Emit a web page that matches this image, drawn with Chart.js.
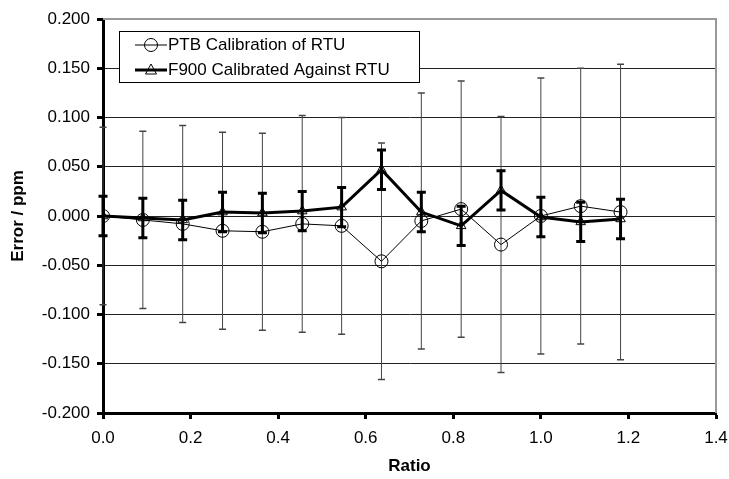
<!DOCTYPE html>
<html>
<head>
<meta charset="utf-8">
<script src="https://cdn.jsdelivr.net/npm/chart.js@4.4.0/dist/chart.umd.min.js"></script>
<style>
  body { margin: 0; background: #fff; }
  #wrap { width: 729px; height: 479px; }
</style>
</head>
<body>
<div id="wrap"><canvas id="graph" width="729" height="479"></canvas></div>
<script>
// ratio values (x)
var ratios = [0, 0.091, 0.182, 0.273, 0.364, 0.455, 0.545, 0.636, 0.727, 0.818, 0.909, 1.0, 1.091, 1.182]

// PTB calibration of RTU : error and uncertainty (ppm)
var ptbError = [0, -0.004, -0.008, -0.015, -0.016, -0.008, -0.010, -0.046, -0.005, 0.007, -0.029, 0.000, 0.010, 0.004]
var ptbUnc = [0.09, 0.09, 0.10, 0.10, 0.10, 0.11, 0.11, 0.12, 0.13, 0.13, 0.13, 0.14, 0.14, 0.15]

// F900 calibrated against RTU
var f900Error = [0, -0.002, -0.004, 0.004, 0.003, 0.005, 0.009, 0.047, 0.004, -0.010, 0.026, -0.001, -0.006, -0.003]
var f900Unc = [0.02, 0.02, 0.02, 0.02, 0.02, 0.02, 0.02, 0.02, 0.02, 0.02, 0.02, 0.02, 0.02, 0.02]

var seriesLabels = ['PTB Calibration of RTU', 'F900 Calibrated Against RTU']

var FONT = "'Liberation Sans', Arial, sans-serif"

function points(xs, ys) {
    return xs.map(function (x, i) { return { x: x, y: ys[i] } })
}

var uncertainties = [ptbUnc, f900Unc]

/*------------------------------*/
/*     error bars + legend      */
/*------------------------------*/
var errorBars = {
    id: 'errorBars',
    beforeDatasetsDraw: function (chart) {
        var ctx = chart.ctx
        var xs = chart.scales.x, ys = chart.scales.y
        var styles = [
            { width: 1, color: '#444', cap: 3.5, capWidth: 1.5 },
            { width: 3, color: '#000', cap: 4.5, capWidth: 3 }
        ]
        ctx.save()
        chart.data.datasets.forEach(function (ds, d) {
            var st = styles[d]
            ds.data.forEach(function (p, i) {
                var u = uncertainties[d][i]
                var px = xs.getPixelForValue(p.x)
                var top = ys.getPixelForValue(p.y + u)
                var bot = ys.getPixelForValue(p.y - u)
                ctx.strokeStyle = st.color
                ctx.lineWidth = st.width
                ctx.beginPath()
                ctx.moveTo(px, top)
                ctx.lineTo(px, bot)
                ctx.stroke()
                ctx.lineWidth = st.capWidth
                ctx.beginPath()
                ctx.moveTo(px - st.cap, top)
                ctx.lineTo(px + st.cap, top)
                ctx.moveTo(px - st.cap, bot)
                ctx.lineTo(px + st.cap, bot)
                ctx.stroke()
            })
        })
        ctx.restore()
    },
    afterDatasetsDraw: function (chart) {
        var ctx = chart.ctx
        var area = chart.chartArea
        ctx.save()
        // right and top border of the plot
        ctx.strokeStyle = '#999'
        ctx.lineWidth = 2
        ctx.beginPath()
        ctx.moveTo(area.left, area.top)
        ctx.lineTo(area.right, area.top)
        ctx.lineTo(area.right, area.bottom)
        ctx.stroke()

        // legend box
        var bx = area.left + 16, by = area.top + 12, bw = 300, bh = 51
        ctx.fillStyle = '#fff'
        ctx.fillRect(bx, by, bw, bh)
        ctx.strokeStyle = '#000'
        ctx.lineWidth = 1
        ctx.strokeRect(bx + 0.5, by + 0.5, bw, bh)

        ctx.font = '17px ' + FONT
        ctx.textBaseline = 'middle'
        ctx.fillStyle = '#000'
        var rows = [by + 14, by + 39]
        chart.data.datasets.forEach(function (ds, d) {
            var y = rows[d]
            var x0 = bx + 16, x1 = bx + 48, cx = (x0 + x1) / 2
            ctx.strokeStyle = '#000'
            ctx.lineWidth = ds.borderWidth
            ctx.beginPath()
            ctx.moveTo(x0, y)
            ctx.lineTo(x1, y)
            ctx.stroke()
            ctx.lineWidth = 1
            ctx.beginPath()
            if (d === 0) {
                ctx.arc(cx, y, 6.5, 0, Math.PI * 2)
            } else {
                ctx.moveTo(cx, y - 6)
                ctx.lineTo(cx + 5.5, y + 4)
                ctx.lineTo(cx - 5.5, y + 4)
                ctx.closePath()
            }
            ctx.stroke()
            ctx.fillStyle = '#000'
            ctx.fillText(ds.label, x1 + 1, y)
        })
        ctx.restore()
    }
}

var ctx_graph = document.getElementById('graph').getContext('2d')

var data_graph = {
    datasets: [{
        label: seriesLabels[0],
        data: points(ratios, ptbError),
        showLine: true,
        borderColor: '#000',
        borderWidth: 1,
        pointStyle: 'circle',
        pointRadius: 6.5,
        pointBorderWidth: 1,
        pointBorderColor: '#000',
        pointBackgroundColor: 'rgba(0,0,0,0)'
    }, {
        label: seriesLabels[1],
        data: points(ratios, f900Error),
        showLine: true,
        borderColor: '#000',
        borderWidth: 3,
        pointStyle: 'triangle',
        pointRadius: 5.5,
        pointBorderWidth: 1,
        pointBorderColor: '#000',
        pointBackgroundColor: 'rgba(0,0,0,0)'
    }]
}

var config_graph = {
    type: 'scatter',
    data: data_graph,
    options: {
        responsive: false,
        animation: false,
        layout: { padding: { top: 19, right: 13, left: 0, bottom: 0 } },
        plugins: {
            legend: { display: false },
            tooltip: { enabled: false }
        },
        scales: {
            x: {
                type: 'linear',
                min: 0,
                max: 1.4,
                afterFit: function (s) {
                    s.height = 66
                    s.paddingLeft = 0
                    s.paddingRight = 0
                },
                ticks: {
                    stepSize: 0.2,
                    color: '#000',
                    padding: 9,
                    maxRotation: 0,
                    font: { family: FONT, size: 17 },
                    callback: function (v) { return v.toFixed(1) }
                },
                grid: {
                    drawOnChartArea: false,
                    drawTicks: true,
                    tickLength: 6,
                    tickWidth: 3,
                    tickColor: '#000'
                },
                border: { display: true, color: '#000', width: 3 },
                title: {
                    display: true,
                    text: 'Ratio',
                    color: '#000',
                    padding: { top: 0, bottom: 2 },
                    font: { family: FONT, size: 17, weight: 'bold' }
                }
            },
            y: {
                type: 'linear',
                min: -0.2,
                max: 0.2,
                afterFit: function (s) { s.width = 103 },
                ticks: {
                    stepSize: 0.05,
                    color: '#000',
                    padding: 7,
                    font: { family: FONT, size: 17 },
                    callback: function (v) { return v.toFixed(3) }
                },
                grid: {
                    color: '#222',
                    lineWidth: 1,
                    drawTicks: true,
                    tickLength: 6,
                    tickWidth: 3,
                    tickColor: '#000'
                },
                border: { display: true, color: '#000', width: 3 },
                title: {
                    display: true,
                    text: 'Error / ppm',
                    color: '#000',
                    padding: { top: 8, bottom: 0 },
                    font: { family: FONT, size: 17, weight: 'bold' }
                }
            }
        }
    },
    plugins: [errorBars]
}
var graph = new Chart(ctx_graph, config_graph)
</script>
</body>
</html>
